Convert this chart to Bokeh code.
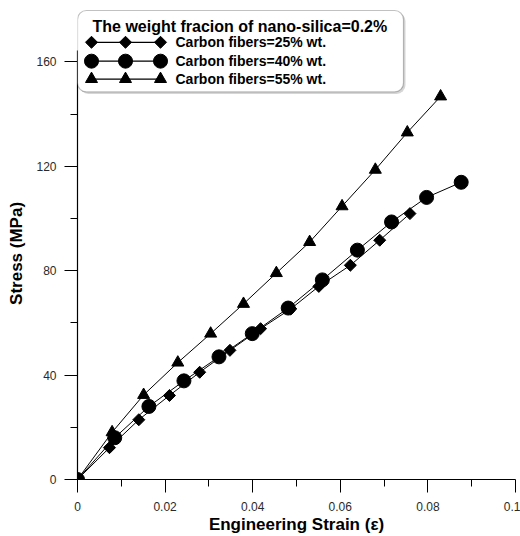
import math
from bokeh.plotting import figure
from bokeh.models import Range1d, FixedTicker, BoxAnnotation, Label
from bokeh.embed import file_html
from bokeh.resources import INLINE

# ---------------- data ----------------
strain_25 = [0, 0.0073, 0.0140, 0.0210, 0.0279, 0.0348, 0.0418, 0.0487, 0.0551, 0.0623, 0.0690, 0.0759]
stress_25 = [0, 12.2, 22.9, 32.2, 41.1, 49.5, 57.8, 65.4, 74.0, 82.1, 91.7, 101.9]

strain_40 = [0, 0.0085, 0.0163, 0.0243, 0.0323, 0.0399, 0.0481, 0.0559, 0.0639, 0.0717, 0.0797, 0.0876]
stress_40 = [0, 16.0, 28.0, 37.8, 47.0, 55.9, 65.7, 76.5, 87.9, 98.7, 108.1, 113.9]

strain_55 = [0, 0.0079, 0.0151, 0.0229, 0.0304, 0.0379, 0.0454, 0.0530, 0.0604, 0.0680, 0.0753, 0.0829]
stress_55 = [0, 18.1, 32.4, 44.8, 55.9, 67.3, 79.1, 91.0, 104.7, 118.7, 133.0, 146.8]

series_labels = ["Carbon fibers=25% wt.", "Carbon fibers=40% wt.", "Carbon fibers=55% wt."]
legend_title = "The weight fracion of nano-silica=0.2%"

x_ticks = [0, 0.02, 0.04, 0.06, 0.08, 0.1]
x_tick_labels = ["0", "0.02", "0.04", "0.06", "0.08", "0.1"]
x_minor = [0.01, 0.03, 0.05, 0.07, 0.09]
y_ticks = [0, 40, 80, 120, 160]
y_tick_labels = ["0", "40", "80", "120", "160"]
y_minor = [20, 60, 100, 140]

# ---------------- layout ----------------
W, H = 520, 536
ML, MR, MT, MB = 77, 5, 8, 54
X0, X1 = 0, 0.1
Y0, Y1 = 0, 180.5
FONT = "Liberation Sans"

p = figure(width=W, height=H, output_backend="svg", toolbar_location=None,
           x_range=Range1d(X0, X1), y_range=Range1d(Y0, Y1),
           min_border_left=ML, min_border_right=MR, min_border_top=MT, min_border_bottom=MB,
           background_fill_color="white", border_fill_color="white")
p.outline_line_color = None
p.xgrid.visible = False
p.ygrid.visible = False

fw = W - ML - MR
fh = H - MT - MB

def px2x(px):
    return X0 + (px - ML) / fw * (X1 - X0)

def px2y(py):
    return Y0 + (H - MB - py) / fh * (Y1 - Y0)

# axes
p.xaxis.ticker = FixedTicker(ticks=x_ticks, minor_ticks=x_minor)
p.xaxis.major_label_overrides = {t: l for t, l in zip(x_ticks, x_tick_labels)}
p.yaxis.ticker = FixedTicker(ticks=y_ticks, minor_ticks=y_minor)
p.yaxis.major_label_overrides = {t: l for t, l in zip(y_ticks, y_tick_labels)}
# y axis line ends behind the legend box
p.yaxis.bounds = (Y0, px2y(50))

for ax in (p.xaxis[0], p.yaxis[0]):
    ax.axis_line_color = "black"
    ax.axis_line_width = 1.2
    ax.major_tick_line_color = "black"
    ax.minor_tick_line_color = "black"
    ax.major_tick_out = 13
    ax.major_tick_in = 0
    ax.minor_tick_out = 7
    ax.minor_tick_in = 0
    ax.major_label_text_font = FONT
    ax.major_label_text_font_size = "12px"
    ax.major_label_text_color = "#2a2a2a"
    ax.axis_label_text_font = FONT
    ax.axis_label_text_font_size = "17px"
    ax.axis_label_text_font_style = "bold"
    ax.axis_label_text_color = "black"

p.xaxis.axis_label = "Engineering Strain (\u03b5)"
# trailing no-break spaces shift the centred label slightly down, as in the reference
p.yaxis.axis_label = "Stress (MPa)" + "\u00a0" * 4
p.xaxis.major_label_standoff = 9
p.xaxis.axis_label_standoff = 1
p.yaxis.major_label_standoff = 8
p.yaxis.axis_label_standoff = 7

# data series
p.line(strain_25, stress_25, line_color="black", line_width=1)
p.scatter(strain_25, stress_25, marker="square", angle=math.pi / 4, size=8.5,
          fill_color="black", line_color="black")
p.line(strain_40, stress_40, line_color="black", line_width=1)
p.scatter(strain_40, stress_40, marker="circle", size=14,
          fill_color="black", line_color="black")
p.line(strain_55, stress_55, line_color="black", line_width=1)
p.scatter(strain_55, stress_55, marker="triangle", size=12,
          fill_color="black", line_color="black")

# ---------------- legend (drawn manually) ----------------
shadow = BoxAnnotation(left=px2x(79), right=px2x(405), top=px2y(12), bottom=px2y(94),
                       fill_color="#bbbbbb", fill_alpha=0.6, line_color=None,
                       border_radius=9, level="annotation")
p.add_layout(shadow)
box = BoxAnnotation(left=px2x(77), right=px2x(403), top=px2y(10), bottom=px2y(92),
                    fill_color="white", fill_alpha=1.0, line_color="#333333", line_width=1.2,
                    border_radius=9, level="annotation")
p.add_layout(box)

p.add_layout(Label(x=px2x(92), y=px2y(26), text=legend_title, text_font=FONT,
                   text_font_size="16px", text_font_style="bold", text_baseline="middle",
                   text_color="black", level="overlay"))

row_y = [42, 61, 79]
mk = [("square", math.pi / 4, 8.5), ("circle", 0, 14), ("triangle", 0, 12)]
gx = [px2x(91), px2x(125), px2x(160)]
for i in range(3):
    yy = px2y(row_y[i])
    p.line(gx, [yy] * 3, line_color="black", line_width=1.2, level="overlay")
    p.scatter(gx, [yy] * 3, marker=mk[i][0], angle=mk[i][1], size=mk[i][2],
              fill_color="black", line_color="black", level="overlay")
    p.add_layout(Label(x=px2x(175), y=yy, text=series_labels[i], text_font=FONT,
                       text_font_size="14px", text_font_style="bold", text_baseline="middle",
                       text_color="black", level="overlay"))

open("out.html", "w").write(file_html(p, INLINE))
